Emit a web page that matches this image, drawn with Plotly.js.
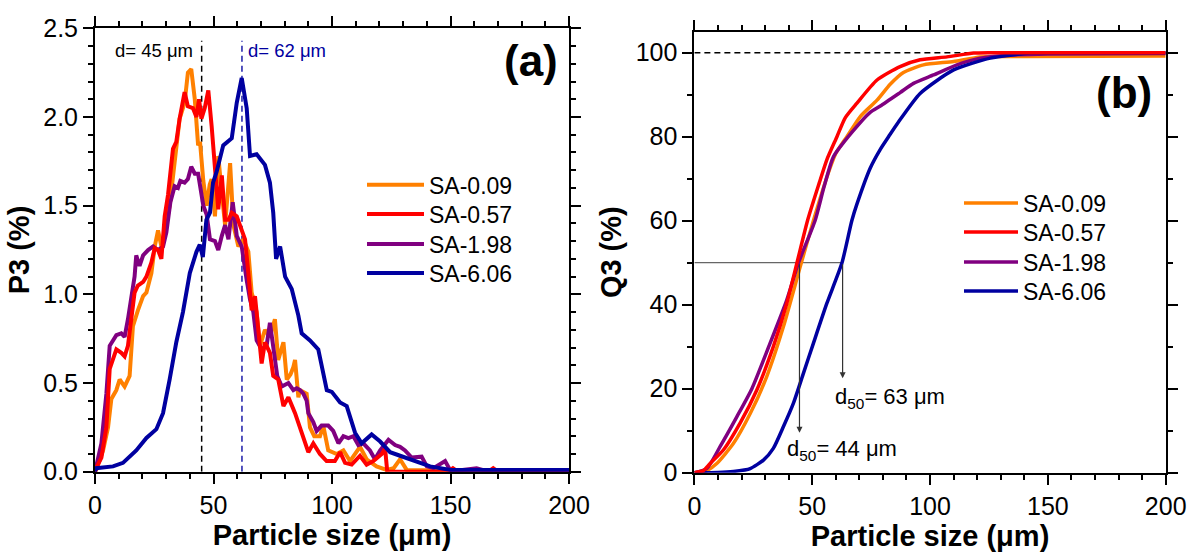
<!DOCTYPE html>
<html><head><meta charset="utf-8">
<script src="https://cdn.plot.ly/plotly-3.0.1.min.js"></script>
<style>html,body{margin:0;padding:0;background:#fff}#chart{width:1189px;height:553px}</style>
</head><body><div id="chart"></div>
<script>
// ---------- Panel (a): P3 density distributions ----------
var seriesNames = ['SA-0.09', 'SA-0.57', 'SA-1.98', 'SA-6.06'];
var seriesColors = ['#FF8000', '#FF0000', '#800080', '#0000A0'];

var p3_x_009 = [0,0.5,3.4,5.5,6.9,9,10.4,12.5,14.6,16,18.1,20.3,21.7,23.8,25.2,26.6,28,29.4,31.5,33.6,35.7,37.8,39.2,40.6,42.1,43.5,44.3,45.7,47.1,48.4,49.2,50.6,52,53.5,54.9,57,58.4,60.5,62.6,64.7,66.1,68.2,69.6,71.7,73.8,75.9,77.3,79.5,80.9,82.5,83.7,84.4,85.8,86.5,89.3,90.7,92.5,94.9,96.3,98.4,102,104.8,107.6,111.8,114.6,118.8,123,126,128.7,131.5,135,140,150,160,170,180,190,200];
var p3_y_009 = [0,0.01,0.12,0.25,0.41,0.46,0.52,0.48,0.54,0.82,0.91,0.99,1.01,1.12,1.27,1.36,1.27,1.35,1.50,1.73,1.99,2.08,2.25,2.27,2.10,1.84,1.86,1.64,1.50,1.62,1.65,1.44,1.78,1.57,1.39,1.74,1.39,1.27,1.31,1.24,1.01,0.90,0.71,0.80,0.76,0.86,0.63,0.73,0.52,0.55,0.59,0.63,0.42,0.46,0.44,0.25,0.20,0.20,0.26,0.12,0.10,0.12,0.06,0.14,0.07,0.03,0.01,0.02,0.07,0.01,0.01,0.005,0.01,0.005,0.01,0.005,0.01,0.005];

var p3_x_057 = [0,0.5,2.7,4.8,6.2,7.6,9,11.1,12.5,13.9,15.3,16.7,18.1,20.3,21.7,23.8,25.2,26.6,28,29.4,30.8,32.9,34.3,35.7,37.8,39.2,41.3,42.8,43.9,44.9,46.3,47.8,49.2,50.6,52,53.5,54.9,56.3,57.7,59.8,61.9,63.3,64.7,66.1,67.5,68.9,70.3,71.7,73.8,75.2,77.3,79.5,81.6,84.4,86,88,89.3,90,92.1,94.9,97.7,101.2,103.4,105.5,108.3,111.8,114.6,117.4,121,122.4,123.3,130,140,149,151,153,166,168,170,200];
var p3_y_057 = [0,0.02,0.08,0.25,0.58,0.63,0.69,0.67,0.65,0.71,0.88,1.01,1.05,1.07,1.10,1.18,1.26,1.25,1.20,1.44,1.56,1.82,1.86,1.99,2.14,2.06,2.05,2.00,2.10,1.99,2.05,2.15,1.95,1.69,1.48,1.67,1.42,1.42,1.46,1.44,1.37,1.31,1.12,0.91,0.99,0.82,0.61,0.73,0.67,0.54,0.52,0.37,0.42,0.33,0.27,0.20,0.14,0.11,0.16,0.10,0.06,0.06,0.11,0.05,0.04,0.09,0.04,0.06,0.10,0.13,0.0,0.0,0.0,0.0,0.02,0.0,0.0,0.02,0.0,0.0];

var p3_x_198 = [0,0.5,2.7,4.8,6.2,7.6,9,11.1,12.5,13.9,15.3,16.7,17.4,18.8,20.3,22.4,24.5,26.6,28.7,30.1,31.8,33.6,35,36,37.8,39.2,40.6,42.1,43.5,44.9,45.7,47.1,48.5,50.6,52,53.5,54.9,56.3,58.1,59.8,61.9,64,65.4,66.8,68.2,70.3,72.4,73.8,75.2,76.9,78.8,81.6,83.7,85.1,86.5,87.9,89.3,90,92.1,93.5,95.6,98.4,100.5,102.7,104.8,106.9,109,111.1,113.2,116,118.1,120.3,123.8,126.6,128.7,130.8,133.6,137.8,140,142.8,147.7,149.8,155,161,165,200];
var p3_y_198 = [0,0.03,0.16,0.44,0.71,0.74,0.77,0.78,0.76,0.86,0.97,1.10,1.22,1.16,1.22,1.25,1.27,1.25,1.27,1.35,1.52,1.61,1.60,1.64,1.63,1.65,1.72,1.68,1.68,1.57,1.50,1.45,1.31,1.30,1.25,1.33,1.39,1.31,1.52,1.33,1.27,1.08,0.97,0.90,0.74,0.69,0.71,0.84,0.69,0.54,0.48,0.50,0.46,0.47,0.46,0.44,0.40,0.33,0.28,0.23,0.26,0.26,0.23,0.16,0.20,0.19,0.20,0.15,0.16,0.12,0.07,0.12,0.18,0.15,0.14,0.12,0.08,0.085,0.03,0.02,0.06,0.01,0.01,0.02,0.005,0.005];

var p3_x_606 = [0,0.5,7.6,11.8,17.4,21.7,25.9,28.7,31.5,34.3,37.1,40,42.8,44.2,45.5,47,48.5,49.8,51.3,54.1,57.7,59.8,61.9,64,65.4,68.2,71.7,73.8,75.2,76.4,78.1,80.2,83,85.8,87.2,90.7,94.2,96.3,97.8,99.9,103.4,106.2,107.6,109.7,112.5,116.7,120.3,124.5,128.7,132.9,137.1,141.4,150,200];
var p3_y_606 = [0,0.02,0.03,0.05,0.12,0.19,0.24,0.33,0.52,0.73,0.90,1.12,1.24,1.28,1.21,1.42,1.46,1.63,1.69,1.84,1.88,2.08,2.22,2.05,1.78,1.79,1.73,1.63,1.46,1.20,1.27,1.10,1.03,0.88,0.78,0.74,0.69,0.56,0.46,0.45,0.39,0.37,0.31,0.22,0.16,0.21,0.17,0.11,0.09,0.07,0.05,0.03,0.01,0.01];

// ---------- Panel (b): Q3 cumulative distributions ----------
var q3_x_009 = [0,3,5.3,9.5,16.6,23.7,30.7,37.8,44.9,50.5,56,60,64.7,70.4,77.5,83.1,88.7,97.2,110,121.3,140,200];
var q3_y_009 = [0,0.1,0.5,2.2,7,14.1,22.9,34.8,49,60,70,76,80,84.8,88.7,92.5,95.3,97.1,97.9,99.0,99.1,99.2];

var q3_x_057 = [0,3.8,6.7,12.3,19.4,26.5,33.5,39.2,43.5,48,53,56.2,60.5,64,69,77.5,87.3,95.8,107.2,118.5,125,200];
var q3_y_057 = [0,0.5,2.2,5.4,11.8,19.7,30,40.3,49.9,60,69,74.5,80,84.5,88,93.5,96.7,98.3,99.0,99.9,100,100];

var q3_x_198 = [0,5.3,10.9,18,24.4,32.1,39.2,44.2,51.2,55,59,66.8,74.6,78.9,87.3,93,101.5,111.4,121.3,132.6,150,200];
var q3_y_198 = [0,1.0,6.2,13.3,20,30.8,41.1,50,60,68,75.2,81,85.8,87.3,90.5,92.7,94.7,97.1,98.7,99.4,99.7,99.8];

var q3_x_606 = [0,10,16.6,23.7,29.3,33.5,37.8,42,46.3,50.5,56.2,62.6,66.8,69,74.6,78.9,82.4,86.6,95.8,110,125.6,142.6,160,200];
var q3_y_606 = [0,0.05,0.3,1.0,3.0,5.8,11,16.5,23.7,30.8,40.3,49.9,60,64,72.5,77,80,83.5,90.3,95.9,98.7,99.9,100,100];

// characteristic sizes
var dPeak = [45, 62];        // vertical markers in (a)
var d50 = [44, 63];          // d50 values in (b)
var d50Arrow = [44.6, 62.9]; // arrow x positions
var d50ArrowEnd = [9.5, 22.5];

var p3X = [p3_x_009, p3_x_057, p3_x_198, p3_x_606];
var p3Y = [p3_y_009, p3_y_057, p3_y_198, p3_y_606];
var q3X = [q3_x_009, q3_x_057, q3_x_198, q3_x_606];
var q3Y = [q3_y_009, q3_y_057, q3_y_198, q3_y_606];

var FONT = 'Liberation Sans, Arial, sans-serif';
var H = 553, W = 1189;
// one legend per entry so the row pitch matches the reference
var legTopA = [163.2, 192.5, 222.5, 251.5];
var legTopB = [181.5, 210.5, 240.5, 269.5];
function legendId(n) { return n === 1 ? 'legend' : 'legend' + n; }

var traces = [];
var orderA = [0, 2, 1, 3];
orderA.forEach(function (i) {
  traces.push({
    type: 'scatter', mode: 'lines', x: p3X[i], y: p3Y[i], name: seriesNames[i],
    xaxis: 'x', yaxis: 'y', legend: legendId(i + 1), showlegend: true,
    line: {color: seriesColors[i], width: 4}
  });
});
var orderB = [0, 2, 3, 1];
orderB.forEach(function (i) {
  traces.push({
    type: 'scatter', mode: 'lines', x: q3X[i], y: q3Y[i], name: seriesNames[i],
    xaxis: 'x2', yaxis: 'y2', legend: legendId(i + 5), showlegend: true,
    line: {color: seriesColors[i], width: 3.5, shape: 'spline', smoothing: 0.6}
  });
});

function axisBase(extra) {
  var a = {
    showline: true, linewidth: 2, linecolor: '#000', mirror: 'allticks',
    ticks: 'outside', ticklen: 10, tickwidth: 2, tickcolor: '#000',
    showgrid: false, zeroline: false, automargin: false,
    tickfont: {family: FONT, size: 25, color: '#000'}
  };
  for (var k in extra) a[k] = extra[k];
  return a;
}

var layout = {
  width: W, height: H,
  showlegend: true,
  margin: {l: 0, r: 0, t: 0, b: 0},
  paper_bgcolor: '#fff', plot_bgcolor: '#fff',
  font: {family: FONT, color: '#000'},
  xaxis: axisBase({
    domain: [0.0799, 0.4786], anchor: 'y', range: [0, 200], tick0: 0, dtick: 50,
    minor: {dtick: 10, ticklen: 5, tickwidth: 2, ticks: 'outside', tickcolor: '#000'},
    title: {text: '<b>Particle size (\u03bcm)</b>', font: {family: FONT, size: 29}, standoff: 7}
  }),
  yaxis: axisBase({
    domain: [0.147, 0.9488], anchor: 'x', range: [0, 2.5], tick0: 0, dtick: 0.5, tickformat: '.1f',
    minor: {dtick: 0.1, ticklen: 5, tickwidth: 2, ticks: 'outside', tickcolor: '#000'},
    title: {text: '<b>P3 (%)</b>', font: {family: FONT, size: 29}, standoff: 5}
  }),
  xaxis2: axisBase({
    domain: [0.584, 0.9804], anchor: 'y2', range: [0, 200], tick0: 0, dtick: 50,
    minor: {dtick: 10, ticklen: 5, tickwidth: 2, ticks: 'outside', tickcolor: '#000'},
    title: {text: '<b>Particle size (\u03bcm)</b>', font: {family: FONT, size: 29}, standoff: 7}
  }),
  yaxis2: axisBase({
    domain: [0.1452, 0.9427], anchor: 'x2', range: [0, 105], tick0: 0, dtick: 20,
    minor: {dtick: 10, ticklen: 5, tickwidth: 2, ticks: 'outside', tickcolor: '#000'},
    title: {text: '<b>Q3 (%)</b>', font: {family: FONT, size: 29}, standoff: 5}
  }),
  shapes: [
    {type: 'line', xref: 'x', yref: 'y', x0: dPeak[0], x1: dPeak[0], y0: 0, y1: 2.43,
     line: {color: '#000', width: 1.5, dash: '6px,4px'}, layer: 'below'},
    {type: 'line', xref: 'x', yref: 'y', x0: dPeak[1], x1: dPeak[1], y0: 0, y1: 2.43,
     line: {color: '#1A1AA8', width: 1.5, dash: '6px,4px'}, layer: 'below'},
    {type: 'line', xref: 'x2', yref: 'y2', x0: 0, x1: 200, y0: 100, y1: 100,
     line: {color: '#000', width: 1.5, dash: '6px,4px'}, layer: 'below'},
    {type: 'line', xref: 'x2', yref: 'y2', x0: 0, x1: d50Arrow[1], y0: 50, y1: 50,
     line: {color: '#666', width: 1.2}, layer: 'below'}
  ],
  annotations: [
    {xref: 'x', yref: 'y', x: dPeak[0], y: 2.374, xanchor: 'right', xshift: -7, showarrow: false,
     text: 'd= ' + dPeak[0] + ' \u03bcm', font: {family: FONT, size: 18.5, color: '#000'}},
    {xref: 'x', yref: 'y', x: dPeak[1], y: 2.374, xanchor: 'left', xshift: 4, showarrow: false,
     text: 'd= ' + dPeak[1] + ' \u03bcm', font: {family: FONT, size: 18.5, color: '#0000A0'}},
    {xref: 'paper', yref: 'paper', x: 531 / W, y: 1 - 60 / H, xanchor: 'center', yanchor: 'middle',
     showarrow: false, text: '<b>(a)</b>', font: {family: FONT, size: 44, color: '#000'}},
    {xref: 'paper', yref: 'paper', x: 1124 / W, y: 1 - 93 / H, xanchor: 'center', yanchor: 'middle',
     showarrow: false, text: '<b>(b)</b>', font: {family: FONT, size: 44, color: '#000'}},
    {xref: 'x2', yref: 'y2', x: d50Arrow[0], y: d50ArrowEnd[0], ax: d50Arrow[0], ay: 50,
     axref: 'x2', ayref: 'y2', showarrow: true, arrowhead: 2, arrowsize: 1, arrowwidth: 1.2,
     arrowcolor: '#333', text: ''},
    {xref: 'x2', yref: 'y2', x: d50Arrow[1], y: d50ArrowEnd[1], ax: d50Arrow[1], ay: 50,
     axref: 'x2', ayref: 'y2', showarrow: true, arrowhead: 2, arrowsize: 1, arrowwidth: 1.2,
     arrowcolor: '#333', text: ''},
    {xref: 'x2', yref: 'y2', x: 58.9, y: 17.8, xanchor: 'left', yanchor: 'middle', showarrow: false,
     text: 'd<sub>50</sub>= ' + d50[1] + ' \u03bcm', font: {family: FONT, size: 22, color: '#000'}},
    {xref: 'x2', yref: 'y2', x: 38.4, y: 5.4, xanchor: 'left', yanchor: 'middle', showarrow: false,
     text: 'd<sub>50</sub>= ' + d50[0] + ' \u03bcm', font: {family: FONT, size: 22, color: '#000'}}
  ]
};

for (var j = 0; j < 4; j++) {
  layout[legendId(j + 1)] = {
    x: 362 / W, y: 1 - legTopA[j] / H, xanchor: 'left', yanchor: 'top',
    bgcolor: 'rgba(0,0,0,0)', borderwidth: 0, itemwidth: 57,
    font: {family: FONT, size: 23, color: '#000'}
  };
  layout[legendId(j + 5)] = {
    x: 959 / W, y: 1 - legTopB[j] / H, xanchor: 'left', yanchor: 'top',
    bgcolor: 'rgba(0,0,0,0)', borderwidth: 0, itemwidth: 54,
    font: {family: FONT, size: 23, color: '#000'}
  };
}

Plotly.newPlot('chart', traces, layout, {displayModeBar: false, staticPlot: true});
</script></body></html>
